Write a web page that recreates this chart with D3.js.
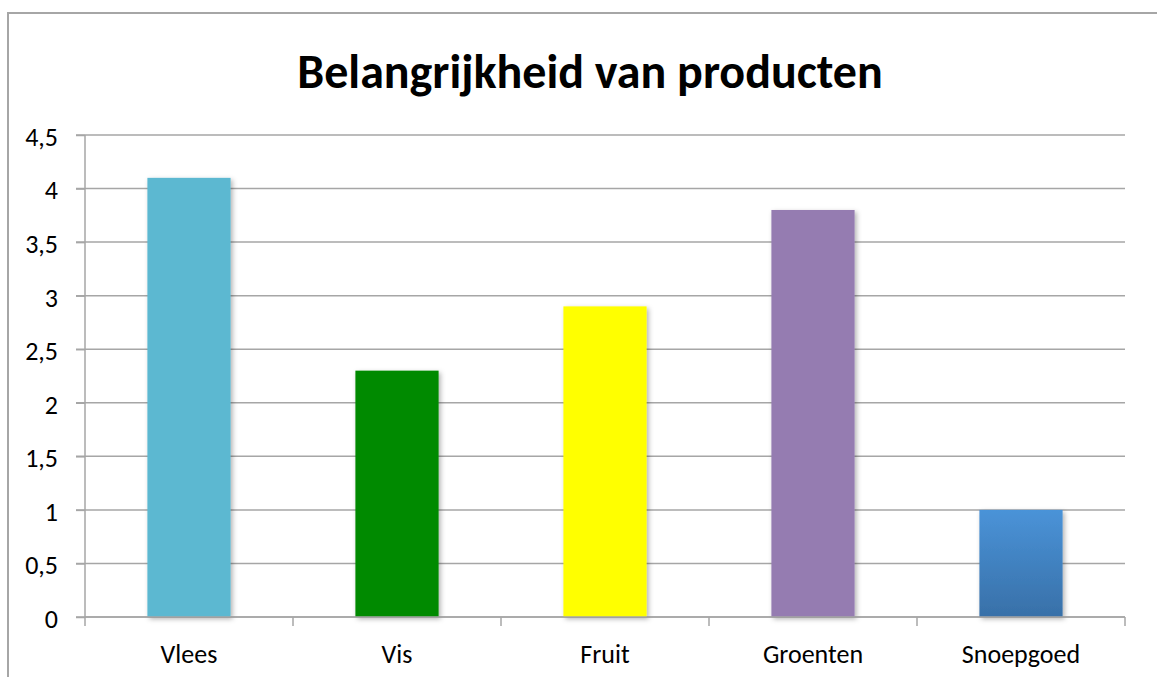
<!DOCTYPE html>
<html>
<head>
<meta charset="utf-8">
<script src="https://cdn.jsdelivr.net/npm/d3@7"></script>
<style>
    body { margin: 0; background: #fff; }
    text { font-family: Carlito, Lato, "Open Sans", sans-serif; fill: #000; }
</style>
</head>
<body>
<div id="chart"></div>
<script>
// chart data
var categories = ["Vlees", "Vis", "Fruit", "Groenten", "Snoepgoed"];
var values = [4.1, 2.3, 2.9, 3.8, 1.0];
var barColors = ["#5BB8D1", "#008A00", "#FFFF00", "#957CB1", "url(#blueGrad)"];
var yTicks = [0, 0.5, 1, 1.5, 2, 2.5, 3, 3.5, 4, 4.5];
var title = "Belangrijkheid van producten";

var svgWidth = 1157;
var svgHeight = 677;

var margin = { top: 135, right: 32, bottom: 60, left: 85 };
var chartWidth = 1125 - margin.left;
var chartHeight = 617 - margin.top;

var svg = d3.select("#chart").append("svg")
    .attr("width", svgWidth)
    .attr("height", svgHeight);

var defs = svg.append("defs");
var grad = defs.append("linearGradient")
    .attr("id", "blueGrad")
    .attr("x1", 0).attr("y1", 0).attr("x2", 0).attr("y2", 1);
grad.append("stop").attr("offset", "0%").attr("stop-color", "#4A93D8");
grad.append("stop").attr("offset", "100%").attr("stop-color", "#3870A8");

var shadow = defs.append("filter")
    .attr("id", "shadow")
    .attr("x", "-20%").attr("y", "-20%")
    .attr("width", "140%").attr("height", "140%");
shadow.append("feDropShadow")
    .attr("dx", 2).attr("dy", 2)
    .attr("stdDeviation", 2.5)
    .attr("flood-color", "#000")
    .attr("flood-opacity", 0.3);

// outer frame (cut off at right and bottom)
svg.append("rect")
    .attr("x", 8).attr("y", 13)
    .attr("width", 1200).attr("height", 700)
    .attr("fill", "none")
    .attr("stroke", "#A6A6A6")
    .attr("stroke-width", 2);

svg.append("text")
    .attr("x", 590)
    .attr("y", 88)
    .attr("text-anchor", "middle")
    .style("font-size", "48px")
    .style("font-weight", "bold")
    .text(title);

var chartGroup = svg.append("g")
    .attr("transform", `translate(${margin.left}, ${margin.top})`);

var xScale = d3.scaleBand()
    .domain(categories)
    .range([0, chartWidth])
    .paddingInner(0.6)
    .paddingOuter(0.3);

var yScale = d3.scaleLinear()
    .domain([0, 4.5])
    .range([chartHeight, 0]);

// gridlines
chartGroup.append("g").selectAll("line")
    .data(yTicks)
    .enter()
    .append("line")
    .attr("x1", -9)
    .attr("x2", chartWidth)
    .attr("y1", d => yScale(d))
    .attr("y2", d => yScale(d))
    .attr("stroke", "#A6A6A6")
    .attr("stroke-width", 1.5);

// y axis
var leftAxis = d3.axisLeft(yScale)
    .tickValues(yTicks)
    .tickSize(9)
    .tickPadding(18)
    .tickFormat(d => String(d).replace(".", ","));

var yAxis = chartGroup.append("g").call(leftAxis);
yAxis.selectAll("path, line").attr("stroke", "#A6A6A6").attr("stroke-width", 1.5);
yAxis.selectAll("text").style("font-size", "26px").attr("fill", "#000").attr("dy", "0.4em");
yAxis.select(".domain").attr("d", `M0,${chartHeight + 0.5}V0`);

// bars
chartGroup.append("g").selectAll("rect")
    .data(values)
    .enter()
    .append("rect")
    .attr("x", (d, i) => xScale(categories[i]))
    .attr("y", d => yScale(d))
    .attr("width", xScale.bandwidth())
    .attr("height", d => chartHeight - yScale(d))
    .attr("fill", (d, i) => barColors[i])
    .attr("filter", "url(#shadow)");

// x axis with category dividers
var xAxis = chartGroup.append("g")
    .attr("transform", `translate(0, ${chartHeight})`);
xAxis.append("line")
    .attr("x1", 0).attr("x2", chartWidth)
    .attr("stroke", "#A6A6A6").attr("stroke-width", 1.5);
var step = chartWidth / categories.length;
xAxis.selectAll(".divider")
    .data(d3.range(categories.length + 1))
    .enter()
    .append("line")
    .attr("class", "divider")
    .attr("x1", d => d * step).attr("x2", d => d * step)
    .attr("y1", 0).attr("y2", 9)
    .attr("stroke", "#A6A6A6").attr("stroke-width", 1.5);
xAxis.selectAll(".cat")
    .data(categories)
    .enter()
    .append("text")
    .attr("class", "cat")
    .attr("x", d => xScale(d) + xScale.bandwidth() / 2)
    .attr("y", 46)
    .attr("text-anchor", "middle")
    .style("font-size", "26px")
    .text(d => d);
</script>
</body>
</html>
